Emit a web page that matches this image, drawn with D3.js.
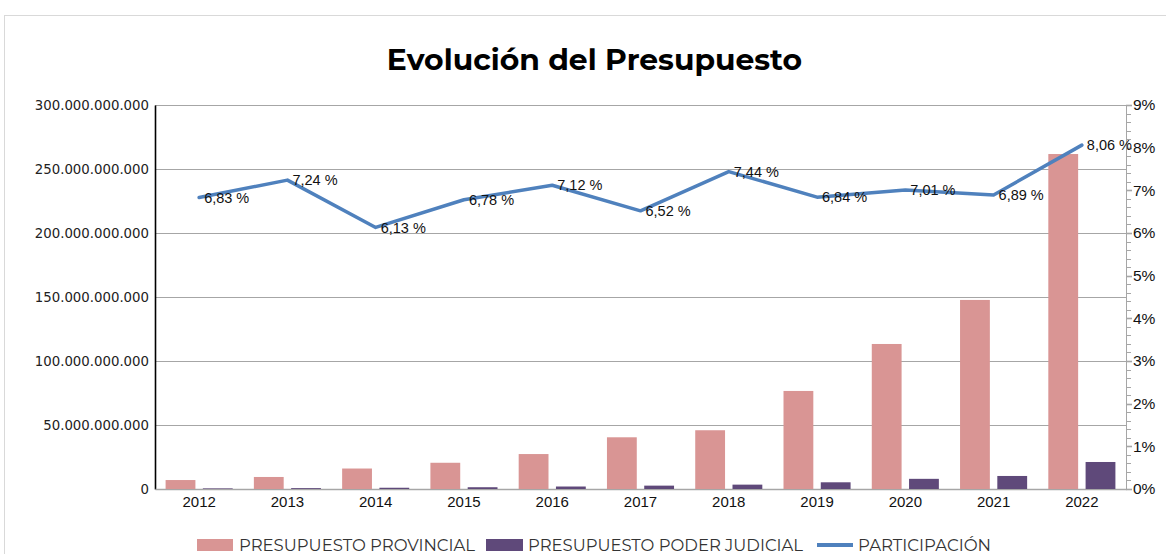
<!DOCTYPE html>
<html><head><meta charset="utf-8">
<script src="https://cdn.jsdelivr.net/npm/d3@7"></script>
<style>body{margin:0;background:#fff}svg{display:block}</style>
</head><body>
<script>
const years = ["2012","2013","2014","2015","2016","2017","2018","2019","2020","2021","2022"];
const provincial = [7.0e9, 9.4e9, 16.0e9, 20.5e9, 27.3e9, 40.4e9, 45.9e9, 76.6e9, 113.3e9, 147.7e9, 261.7e9];
const judicial = [0.48e9, 0.68e9, 0.98e9, 1.39e9, 1.94e9, 2.63e9, 3.41e9, 5.24e9, 7.94e9, 10.18e9, 21.1e9];
const participacion = [6.83, 7.24, 6.13, 6.78, 7.12, 6.52, 7.44, 6.84, 7.01, 6.89, 8.06];
const leftTicks = [0, 50e9, 100e9, 150e9, 200e9, 250e9, 300e9];
const rightTicks = [0,1,2,3,4,5,6,7,8,9];
const title = "Evolución del Presupuesto";
const legendLabels = ["PRESUPUESTO PROVINCIAL", "PRESUPUESTO PODER JUDICIAL", "PARTICIPACIÓN"];

const W = 1166, H = 554;
const colors = {prov:"#D99594", jud:"#5F497A", line:"#4F81BD"};
const m = {left:155, right:1126, top:105, bottom:489};

const svg = d3.select("body").append("svg").attr("width", W).attr("height", H);
svg.append("rect").attr("x",4.5).attr("y",15.5).attr("width",1300).attr("height",700)
  .attr("fill","none").attr("stroke","#d9d9d9");

const x = d3.scaleBand().domain(years).range([m.left, m.right]).paddingInner(0.24).paddingOuter(0.12);
const sub = d3.scaleBand().domain(["prov","jud"]).range([0, x.bandwidth()]).paddingInner(0.2);
const y = d3.scaleLinear().domain([0, 300e9]).range([m.bottom, m.top]);
const y2 = d3.scaleLinear().domain([0, 9]).range([m.bottom, m.top]);

function fit(sel, target){
  let fs = parseFloat(sel.attr("font-size"));
  for(let i=0;i<4;i++){ const w = sel.node().getComputedTextLength(); fs = fs*target/w; sel.attr("font-size", fs); }
}

// title
const t = svg.append("text").attr("x", 594.5).attr("y", 70).attr("text-anchor","middle")
  .attr("font-family","Montserrat, 'Open Sans', sans-serif").attr("font-weight",700)
  .attr("font-size",30).attr("fill","#000").text(title);
fit(t, 415);

// gridlines
svg.append("g").selectAll("line").data(leftTicks.filter(d=>d>0)).join("line")
  .attr("x1", m.left).attr("x2", m.right).attr("y1", d=>Math.round(y(d))+0.5).attr("y2", d=>Math.round(y(d))+0.5)
  .attr("stroke","#a6a6a6").attr("stroke-width",1.2);

// left axis
const fmt = d => d3.format(",")(d).replace(/,/g, ".");
const gl = svg.append("g").attr("transform",`translate(${m.left},0)`)
  .call(d3.axisLeft(y).tickValues(leftTicks).tickFormat(fmt).tickSize(0).tickPadding(6));
gl.select(".domain").attr("stroke","#000").attr("stroke-width",1.6);
gl.selectAll("text").attr("font-family","'DejaVu Sans', Verdana, sans-serif").attr("font-size",13.3).attr("fill","#222");

// bottom axis
const gb = svg.append("g").attr("transform",`translate(0,${m.bottom})`)
  .call(d3.axisBottom(x).tickSize(0).tickPadding(7));
gb.select(".domain").attr("stroke","#a6a6a6").attr("stroke-width",1.5);
gb.selectAll("text").attr("font-family","'Liberation Sans', Arial, sans-serif").attr("font-size",15).attr("fill","#111");

// right axis
const gr = svg.append("g").attr("transform",`translate(${m.right},0)`);
gr.append("line").attr("x1",0.5).attr("x2",0.5).attr("y1",m.top).attr("y2",m.bottom).attr("stroke","#a6a6a6");
const minor = d3.range(0, 9.0001, 0.2);
gr.selectAll("line.mt").data(minor).join("line").attr("class","mt")
  .attr("x1",0).attr("x2",d=>Math.abs(d-Math.round(d))<1e-6?6:5)
  .attr("y1",d=>Math.round(y2(d))+0.5).attr("y2",d=>Math.round(y2(d))+0.5)
  .attr("stroke","#a6a6a6").attr("stroke-width",d=>Math.abs(d-Math.round(d))<1e-6?1.6:1);
gr.selectAll("text").data(rightTicks).join("text")
  .attr("x",7).attr("y",d=>y2(d)).attr("dy","0.35em")
  .attr("font-family","'Liberation Sans', Arial, sans-serif").attr("font-size",15.5).attr("fill","#111")
  .text(d=>d+"%");

// bars
const gbar = svg.append("g");
gbar.selectAll("rect.p").data(years).join("rect").attr("class","p")
  .attr("x",(d)=>x(d)+sub("prov")).attr("width",sub.bandwidth())
  .attr("y",(d,i)=>y(provincial[i])).attr("height",(d,i)=>y(0)-y(provincial[i]))
  .attr("fill",colors.prov);
gbar.selectAll("rect.j").data(years).join("rect").attr("class","j")
  .attr("x",(d)=>x(d)+sub("jud")).attr("width",sub.bandwidth())
  .attr("y",(d,i)=>y(judicial[i])).attr("height",(d,i)=>y(0)-y(judicial[i]))
  .attr("fill",colors.jud);

// line
const pts = years.map((d,i)=>[x(d)+x.bandwidth()/2, y2(participacion[i])]);
svg.append("path").attr("d", d3.line()(pts)).attr("fill","none")
  .attr("stroke",colors.line).attr("stroke-width",3.5).attr("stroke-linejoin","round").attr("stroke-linecap","round");
svg.append("g").selectAll("text").data(pts).join("text")
  .attr("x",d=>d[0]+5).attr("y",d=>d[1]).attr("dy","0.35em")
  .attr("font-family","'Liberation Sans', Arial, sans-serif").attr("font-size",14.5).attr("fill","#111")
  .text((d,i)=>d3.format(".2f")(participacion[i]).replace(".",",")+" %");

// legend
const lg = svg.append("g");
const lfont = "Montserrat, 'Open Sans', sans-serif";
const items = [
  {sx:197, sw:36, tx:239, tw:236, type:"rect", c:colors.prov},
  {sx:486, sw:37, tx:528, tw:275, type:"rect", c:colors.jud},
  {sx:817, sw:36, tx:858, tw:133, type:"line", c:colors.line}
];
items.forEach((it,i)=>{
  if(it.type==="rect") lg.append("rect").attr("x",it.sx).attr("y",539).attr("width",it.sw).attr("height",12).attr("fill",it.c);
  else lg.append("line").attr("x1",it.sx).attr("x2",it.sx+it.sw).attr("y1",545).attr("y2",545).attr("stroke",it.c).attr("stroke-width",4);
  lg.append("text").attr("x",it.tx).attr("y",551).attr("font-family",lfont).attr("font-size",16.5)
    .attr("textLength",it.tw).attr("lengthAdjust","spacingAndGlyphs")
    .attr("fill","#333").text(legendLabels[i]);
});
</script>
</body></html>
